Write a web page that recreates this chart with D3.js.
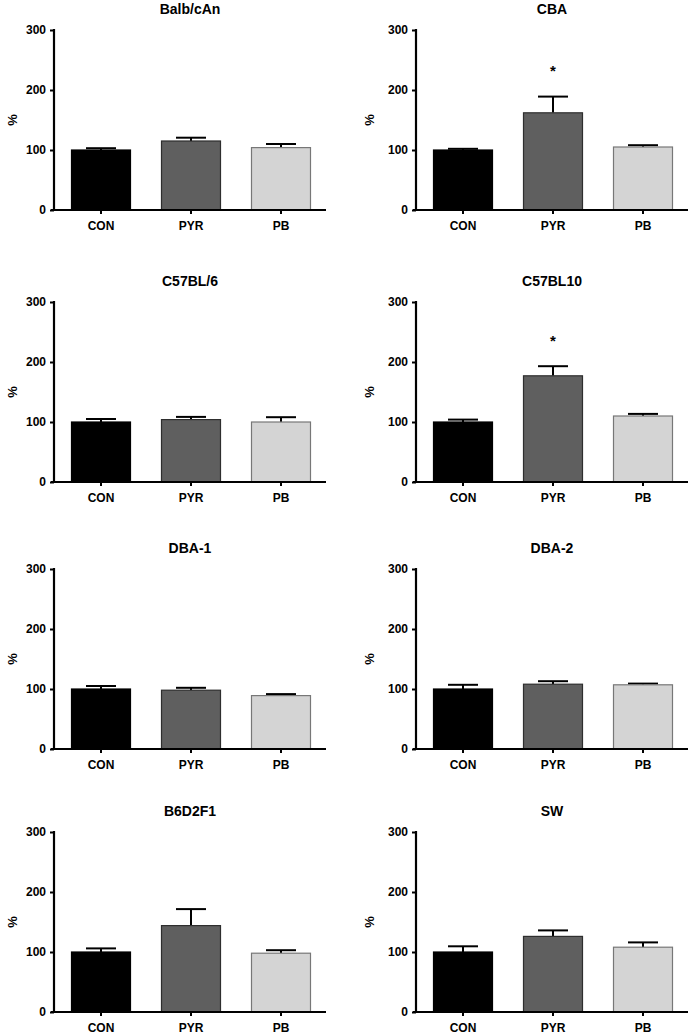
<!DOCTYPE html>
<html>
<head>
<meta charset="utf-8">
<script src="https://cdn.jsdelivr.net/npm/d3@7/dist/d3.min.js"></script>
<style>
  html, body { margin: 0; padding: 0; background: #fff; }
  svg { display: block; font-family: "Liberation Sans", Arial, sans-serif; font-weight: bold; }
  text { font-weight: bold; }
</style>
</head>
<body>
<svg id="chart" width="689" height="1035"></svg>
<script>
// ---- data ----
const strains = ["Balb/cAn", "CBA", "C57BL/6", "C57BL10", "DBA-1", "DBA-2", "B6D2F1", "SW"];
const groups = ["CON", "PYR", "PB"];
const conMean = [100, 100, 100, 100, 100, 100, 100, 100];
const conErr  = [3, 2, 5, 4, 5, 7, 6, 9.5];
const pyrMean = [115, 162, 104, 177, 98, 108, 144, 126];
const pyrErr  = [5.5, 27, 4.5, 16, 4, 5, 27.5, 10];
const pbMean  = [104, 105, 100, 110, 89, 107, 98, 108];
const pbErr   = [6, 3, 8, 3.5, 2.5, 2, 5, 8];
const significant = [false, true, false, true, false, false, false, false]; // "*" over PYR
const yTicks = [0, 100, 200, 300];

// ---- layout ----
const rowTop = [30, 302, 569, 832];
const plotH = 180;
const colAxisX = [54, 416];
const colRangeEnd = [326, 688];
const colLabelX = [12, 369];
const fills = { CON: "#000000", PYR: "#5f5f5f", PB: "#d4d4d4" };
const strokes = { CON: "#000000", PYR: "#2e2e2e", PB: "#777777" };
const FONT = "'Liberation Sans', Arial, sans-serif";

const svg = d3.select("#chart");
const y = d3.scaleLinear().domain([0, 300]).range([plotH, 0]);

strains.forEach((name, i) => {
  const col = i % 2, row = Math.floor(i / 2);
  const ax = colAxisX[col];
  const g = svg.append("g").attr("transform", `translate(0,${rowTop[row]})`);
  const x = d3.scaleBand().domain(groups)
    .range([ax + 2, colRangeEnd[col]])
    .paddingInner(1 / 3).paddingOuter(1 / 6);

  const data = [
    { k: "CON", m: conMean[i], e: conErr[i] },
    { k: "PYR", m: pyrMean[i], e: pyrErr[i] },
    { k: "PB",  m: pbMean[i],  e: pbErr[i] }
  ];

  // error bars (upper only)
  const eb = g.append("g");
  data.forEach(d => {
    const cx = x(d.k) + x.bandwidth() / 2;
    const capW = x.bandwidth() / 2;
    eb.append("line").attr("x1", cx).attr("x2", cx)
      .attr("y1", y(d.m)).attr("y2", y(d.m + d.e))
      .attr("stroke", "#000").attr("stroke-width", 2);
    eb.append("line").attr("x1", cx - capW / 2).attr("x2", cx + capW / 2)
      .attr("y1", y(d.m + d.e)).attr("y2", y(d.m + d.e))
      .attr("stroke", "#000").attr("stroke-width", 2);
  });

  // bars
  g.selectAll("rect.bar").data(data).enter().append("rect")
    .attr("class", "bar")
    .attr("x", d => x(d.k) + 0.5)
    .attr("width", x.bandwidth() - 1)
    .attr("y", d => y(d.m))
    .attr("height", d => y(0) - y(d.m))
    .attr("fill", d => fills[d.k])
    .attr("stroke", d => strokes[d.k])
    .attr("stroke-width", 1.2);

  // significance star
  if (significant[i]) {
    const d = data[1];
    g.append("text")
      .attr("x", x(d.k) + x.bandwidth() / 2)
      .attr("y", y(d.m + d.e) - 31)
      .attr("dy", "0.72em")
      .attr("text-anchor", "middle")
      .attr("font-size", 15)
      .attr("font-family", FONT)
      .text("*");
  }

  // y axis
  const yAxis = d3.axisLeft(y).tickValues(yTicks).tickSize(4).tickPadding(4).tickFormat(d3.format("d"));
  const ya = g.append("g").attr("transform", `translate(${ax},0)`).call(yAxis);
  ya.select(".domain").remove();
  ya.selectAll("line").attr("stroke", "#000").attr("stroke-width", 2);
  ya.selectAll("text").attr("font-size", 12).attr("font-weight", "bold")
    .attr("font-family", FONT).attr("fill", "#000");
  g.append("line").attr("x1", ax).attr("x2", ax).attr("y1", y(300) - 1).attr("y2", y(0) + 1)
    .attr("stroke", "#000").attr("stroke-width", 2.2);

  // x axis
  const xAxis = d3.axisBottom(x).tickSize(4).tickPadding(7);
  const xa = g.append("g").attr("transform", `translate(0,${plotH})`).call(xAxis);
  xa.select(".domain").remove();
  xa.selectAll("line").attr("stroke", "#000").attr("stroke-width", 2);
  xa.selectAll("text").attr("font-size", 12).attr("font-weight", "bold")
    .attr("font-family", FONT).attr("fill", "#000");
  g.append("line").attr("x1", ax - 3).attr("x2", colRangeEnd[col])
    .attr("y1", y(0)).attr("y2", y(0))
    .attr("stroke", "#000").attr("stroke-width", 2.2);

  // y label
  g.append("text")
    .attr("transform", `translate(${colLabelX[col]},${plotH / 2}) rotate(-90)`)
    .attr("text-anchor", "middle").attr("dy", "0.35em")
    .attr("font-family", FONT)
    .attr("font-size", 13).text("%");

  // title
  g.append("text")
    .attr("x", (ax + colRangeEnd[col]) / 2)
    .attr("y", -16)
    .attr("text-anchor", "middle")
    .attr("font-family", FONT)
    .attr("font-size", 14).text(name);
});
</script>
</body>
</html>
